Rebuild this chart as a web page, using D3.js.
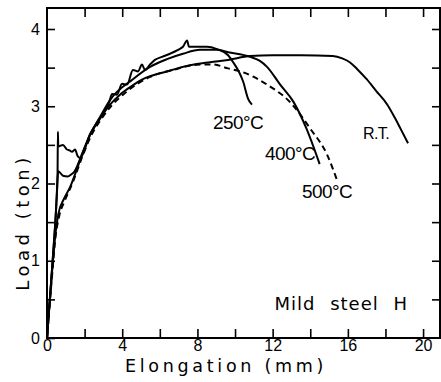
<!DOCTYPE html>
<html lang="en">

<head>
    <meta charset="UTF-8">
    <title>Mild steel H</title>
    <style>
        body {
            padding: 0px;
            margin: 0px;
            background-color: white;
        }

        svg {
            display: block;
        }

        .curve {
            fill: none;
            stroke: black;
            stroke-width: 2;
            stroke-linejoin: round;
        }

        .axis path,
        .axis line {
            stroke: black;
            stroke-width: 1.6;
        }

        .axis text {
            font-family: "Liberation Sans", Arial, sans-serif;
            font-size: 16px;
            fill: black;
        }

        .label {
            font-family: "DejaVu Sans", sans-serif;
            fill: black;
        }

        .temp {
            font-family: "Liberation Sans", Arial, sans-serif;
            font-size: 19px;
            letter-spacing: -0.6px;
            fill: black;
        }
    </style>
</head>

<body>
    <div id="svg"></div>

    <script src="https://cdn.jsdelivr.net/npm/d3@7"></script>
    <script>

        // data: [elongation (mm), load (ton)]
        const curveRT = [
            [0, 0], [0.3, 1.0], [0.5, 1.75], [0.57, 2.1], [0.6, 2.16], [0.85, 2.1], [1.1, 2.09],
            [1.3, 2.12], [1.45, 2.15], [1.6, 2.22], [1.76, 2.32], [2.29, 2.63], [2.82, 2.84],
            [3.35, 3.02], [3.88, 3.15], [4.5, 3.26], [5.1, 3.35], [6.38, 3.45], [7.6, 3.53],
            [8.67, 3.57], [9.63, 3.6], [10.8, 3.65], [12.0, 3.66], [13.5, 3.66], [15.2, 3.65],
            [15.7, 3.62], [16.1, 3.57], [16.5, 3.48], [17.0, 3.35], [17.5, 3.2], [18.1, 3.02],
            [18.5, 2.85], [18.8, 2.71], [19.2, 2.52]
        ];

        const curve250 = [
            [0, 0], [0.3, 1.0], [0.5, 1.75], [0.56, 2.1], [0.58, 2.67], [0.6, 2.48], [0.85, 2.5],
            [1.06, 2.44], [1.2, 2.43], [1.33, 2.41], [1.49, 2.44], [1.62, 2.36], [1.76, 2.33],
            [2.29, 2.64], [2.82, 2.85], [3.19, 2.99], [3.3, 3.05], [3.46, 3.16], [3.72, 3.15],
            [3.99, 3.29], [4.26, 3.28], [4.57, 3.47], [4.84, 3.45], [5.05, 3.54], [5.21, 3.47],
            [5.48, 3.54], [5.74, 3.6], [6.12, 3.64], [6.54, 3.68], [6.97, 3.73], [7.23, 3.77],
            [7.45, 3.85], [7.55, 3.77], [7.98, 3.77], [8.51, 3.77], [9.04, 3.74], [9.63, 3.66],
            [9.9, 3.57], [10.2, 3.45], [10.43, 3.32], [10.69, 3.1], [10.9, 3.02]
        ];

        const curve400 = [
            [0, 0], [0.25, 0.8], [0.45, 1.35], [0.6, 1.6], [0.9, 1.8], [1.22, 1.95], [1.76, 2.3],
            [2.29, 2.63], [2.82, 2.86], [3.35, 3.08], [4.57, 3.35], [5.48, 3.51], [6.38, 3.61],
            [7.23, 3.68], [8.14, 3.73], [9.04, 3.73], [9.63, 3.7], [10.8, 3.64], [11.3, 3.59],
            [11.7, 3.51], [12.4, 3.28], [13.1, 3.06], [13.8, 2.71], [14.5, 2.25]
        ];

        const curve500 = [
            [0, 0], [0.25, 0.75], [0.45, 1.3], [0.65, 1.58], [0.95, 1.78], [1.38, 2.02],
            [1.85, 2.33], [2.35, 2.62], [2.9, 2.84], [3.4, 3.0], [4.04, 3.15], [5.48, 3.38],
            [6.7, 3.47], [8.14, 3.54], [8.83, 3.54], [9.63, 3.49], [10.3, 3.45], [11.0, 3.38],
            [11.7, 3.28], [12.9, 3.06], [14.0, 2.71], [14.9, 2.37], [15.4, 2.06]
        ];

        const xTicks = d3.range(0, 21, 2);
        const yTicks = d3.range(0, 4.01, 0.5);
        const xLabels = [0, 4, 8, 12, 16, 20];
        const yLabels = [0, 1, 2, 3, 4];

        // SVG
        const w = 441;
        const h = 382;
        const mLeft = 47, mRight = 440, mTop = 8, mBottom = 338;

        const svg = d3.select("#svg")
            .append("svg")
            .attr("width", w)
            .attr("height", h);

        const x = d3.scaleLinear().domain([0, 20.9]).range([mLeft, mRight]);
        const y = d3.scaleLinear().domain([0, 4]).range([mBottom, 29]);

        // axes, ticks pointing inward
        svg.append("g")
            .attr("class", "axis")
            .attr("transform", `translate(0, ${mBottom})`)
            .call(d3.axisBottom(x).tickValues(xTicks).tickSize(-9).tickSizeOuter(0).tickPadding(2)
                .tickFormat(d => xLabels.includes(d) ? d : ""));

        svg.append("g")
            .attr("class", "axis")
            .attr("transform", `translate(0, ${mTop})`)
            .call(d3.axisTop(x).tickValues(xTicks.slice(1)).tickSize(-9).tickSizeOuter(0).tickFormat(""));

        svg.append("g")
            .attr("class", "axis")
            .attr("transform", `translate(${mLeft}, 0)`)
            .call(d3.axisLeft(y).tickValues(yTicks).tickSize(-8).tickSizeOuter(0).tickPadding(7)
                .tickFormat(d => yLabels.includes(d) ? d : ""));

        svg.append("g")
            .attr("class", "axis")
            .attr("transform", `translate(${mRight}, 0)`)
            .call(d3.axisRight(y).tickValues(yTicks.slice(1)).tickSize(-8).tickSizeOuter(0).tickFormat(""));

        svg.selectAll(".axis .domain").remove();

        // frame
        svg.append("rect")
            .attr("x", mLeft)
            .attr("y", mTop)
            .attr("width", mRight - mLeft)
            .attr("height", mBottom - mTop)
            .attr("fill", "none")
            .attr("stroke", "black")
            .attr("stroke-width", 2);

        // curves
        const line = d3.line()
            .x(d => x(d[0]))
            .y(d => y(d[1]))
            .curve(d3.curveMonotoneX);

        [curveRT, curve250, curve400].forEach(c => {
            svg.append("path")
                .attr("class", "curve")
                .attr("d", line(c));
        });

        svg.append("path")
            .attr("class", "curve")
            .attr("stroke-dasharray", "6,4")
            .attr("d", line(curve500));

        // labels
        svg.append("text").attr("class", "temp").attr("x", 213).attr("y", 129).text("250°C");
        svg.append("text").attr("class", "temp").attr("x", 265).attr("y", 160).text("400°C");
        svg.append("text").attr("class", "temp").attr("x", 302).attr("y", 198).text("500°C");
        svg.append("text").attr("class", "temp").attr("x", 363).attr("y", 139)
            .style("font-size", "16px").text("R.T.");

        svg.append("text")
            .attr("class", "label")
            .attr("x", 408)
            .attr("y", 310)
            .attr("text-anchor", "end")
            .style("font-size", "18px")
            .style("letter-spacing", "1px")
            .style("word-spacing", "8px")
            .text("Mild steel H");

        svg.append("text")
            .attr("class", "label")
            .attr("x", 226)
            .attr("y", 372)
            .attr("text-anchor", "middle")
            .style("font-size", "17.5px")
            .style("letter-spacing", "3.7px")
            .text("Elongation (mm)");

        svg.append("text")
            .attr("class", "label")
            .attr("transform", "translate(29, 222) rotate(-90)")
            .attr("text-anchor", "middle")
            .style("font-size", "18px")
            .style("letter-spacing", "4.5px")
            .text("Load (ton)");

    </script>
</body>

</html>
